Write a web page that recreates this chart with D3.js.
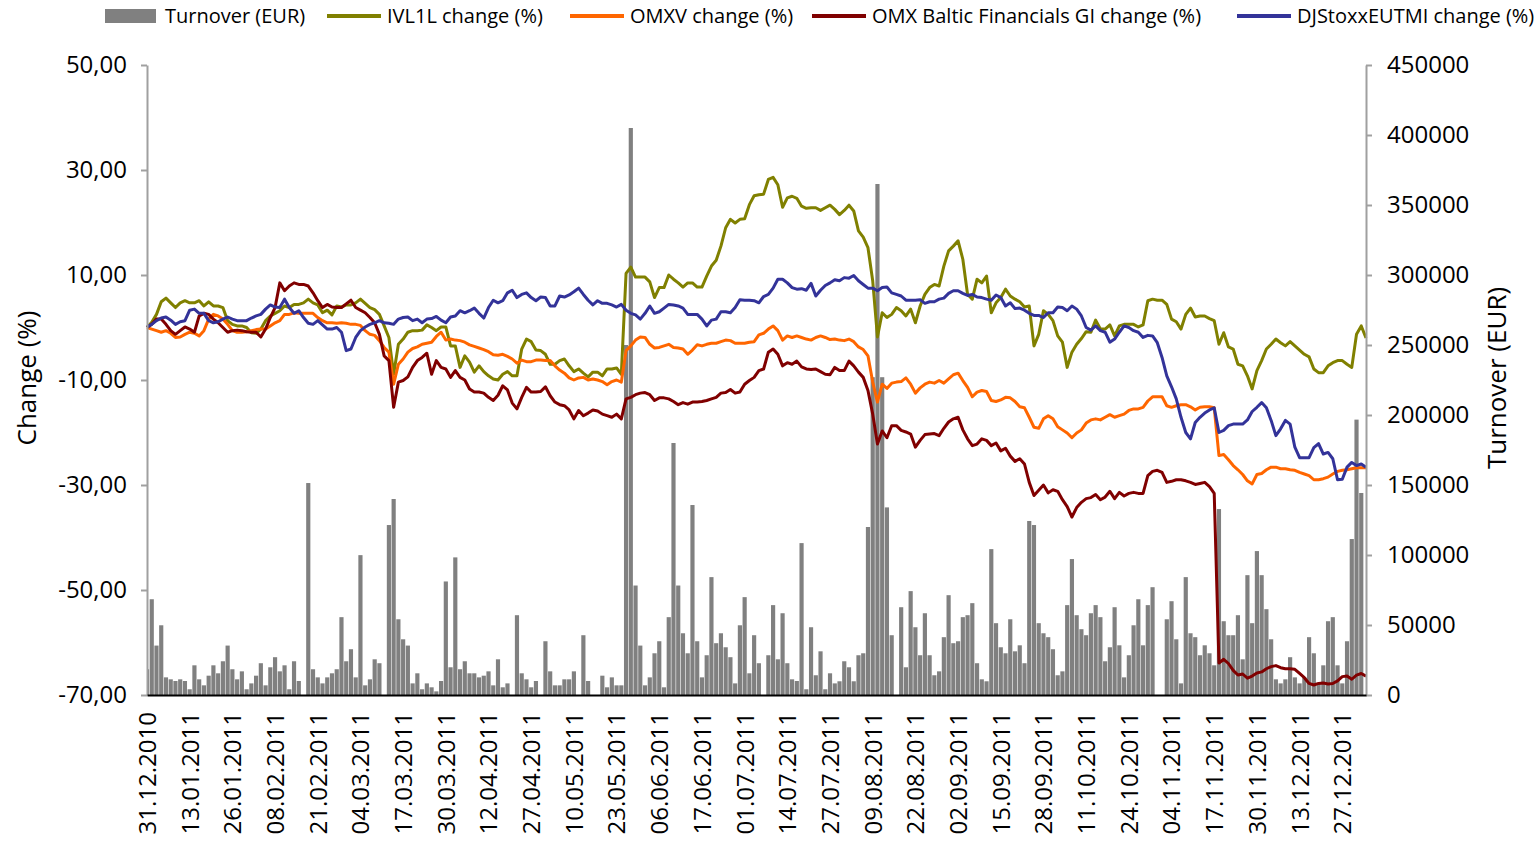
<!DOCTYPE html>
<html>
<head>
<meta charset="utf-8">
<script src="https://d3js.org/d3.v7.min.js"></script>
<style>
  body { margin: 0; background: #fff; }
  svg { display: block; font-family: "Open Sans", sans-serif; }
</style>
</head>
<body>
<svg id="chart" width="1539" height="843"></svg>
<script>
// daily values, one per trading day (31.12.2010 .. end of 2011)
const ivl1l = [0,1.0,2.5,4.9,5.6,4.7,3.8,4.7,5.1,4.7, 4.7,5.1,4.1,4.9,4.1,4.1,3.8,1.3,0.6,0.3,
  0.3,0,-1.0,-1.1,-0.3,1.3,2.2,2.7,3.2,4.1, 3.8,4.4,4.4,4.7,5.4,4.7,4.3,2.8,3.3,2.4,
  4.1,3.9,4.3,4.3,4.7,5.4,4.6,3.8,3.4,2.5, 0.3,-1.9,-8.9,-3.2,-2.2,-0.9,-0.6,-0.6,-0.5,0.5,
  0,-0.6,0.1,0.1,-3.5,-3.5,-7.6,-5.4,-6.6,-8.5, -7.3,-8.4,-9.2,-9.8,-10.0,-8.9,-8.4,-9.2,-9.2,-4.1,
  -2.2,-2.7,-4.3,-4.4,-5.1,-7.0,-7.0,-6.3,-6.0,-7.3, -8.4,-7.9,-8.7,-9.4,-8.5,-8.5,-9.2,-7.9,-7.9,-7.7,
  -8.9,10.3,11.5,9.6,9.6,9.6,8.7,5.7,7.6,7.6, 10.0,9.2,8.5,7.7,8.5,8.5,7.7,7.7,9.8,11.7,
  12.8,15.5,19.0,20.6,19.9,20.6,20.7,23.4,25.1,25.3, 25.4,28.2,28.6,27.2,22.9,24.7,25.0,24.6,23.1,22.7,
  22.8,22.8,22.3,22.8,23.3,22.5,21.5,22.3,23.3,22.2, 18.4,17.2,15.2,8.9,-1.8,2.8,1.9,2.5,3.8,3.2,
  2.2,3.5,0.9,4.1,6.3,7.6,8.2,7.9,11.7,14.6, 15.5,16.5,13.0,6.3,5.4,9.2,8.5,9.8,2.8,4.7,
  5.7,7.3,6.0,5.4,4.9,3.9,4.1,-3.5,-1.3,3.2, 2.5,1.3,-1.6,-2.8,-7.6,-4.7,-3.2,-2.1,-0.8,-0.9,
  1.4,-0.3,-0.3,0.5,-1.6,0.3,0.6,0.6,0.6,0.1, 0.5,5.1,5.4,5.2,5.2,4.4,1.6,1.1,-0.3,2.5,
  3.7,2.0,2.2,2.2,1.7,1.3,-3.2,-1.0,-3.7,-4.1, -7.0,-7.3,-9.2,-11.7,-8.2,-6.3,-4.1,-3.2,-2.2,-2.9,
  -3.5,-2.7,-3.5,-4.3,-5.1,-5.6,-7.9,-8.6,-8.6,-7.3, -6.7,-6.3,-6.3,-7.0,-7.6,-1.3,0.3,-2.0];

const omxv = [0,-0.3,-0.6,-0.9,-0.6,-1.1,-1.9,-1.8,-1.3,-0.9, -1.1,-1.6,-0.6,1.6,2.5,2.2,1.6,0.6,-0.6,-0.9,
  -0.9,-0.8,-0.6,-0.4,-0.3,-0.3,0.3,0.9,1.3,2.5, 2.5,2.8,2.7,2.7,2.7,2.7,1.9,1.3,0.9,0.9,
  0.8,0.9,0.8,0.6,0.6,0.4,-0.6,-1.3,-1.5,-2.5, -3.8,-4.7,-10.8,-7.0,-6.0,-4.7,-4.0,-3.7,-3.2,-3.0,
  -2.8,-1.7,-0.9,-2.4,-2.2,-2.4,-2.5,-2.8,-3.3,-3.6, -3.9,-4.2,-4.6,-5.2,-5.3,-5.1,-5.5,-6.0,-6.8,-6.2,
  -6.5,-6.5,-6.2,-6.2,-6.3,-6.3,-7.3,-8.1,-8.7,-9.6, -10.0,-9.6,-9.5,-10.0,-9.8,-10.0,-10.3,-10.9,-10.3,-10.0,
  -10.4,-4.4,-3.5,-2.4,-1.8,-1.9,-3.2,-3.9,-3.8,-3.5, -3.2,-3.8,-3.9,-4.1,-5.1,-4.3,-3.3,-3.5,-3.2,-3.0,
  -3.0,-2.7,-2.4,-2.5,-3.0,-3.0,-3.0,-2.8,-2.7,-1.4, -1.1,-0.3,0.3,-0.6,-2.4,-1.6,-1.9,-1.6,-1.9,-2.2,
  -2.4,-1.9,-1.6,-1.9,-2.3,-2.2,-2.4,-2.5,-2.2,-2.7, -3.7,-4.2,-5.4,-10.4,-14.2,-10.8,-11.6,-10.6,-10.4,-10.3,
  -9.6,-10.8,-12.5,-11.5,-10.8,-10.4,-10.6,-10.1,-10.6,-9.8, -9.0,-8.7,-10.1,-11.4,-13.2,-12.3,-12.0,-12.2,-13.9,-14.1,
  -13.8,-13.3,-13.4,-14.1,-15.1,-15.3,-17.1,-19.0,-19.2,-17.4, -16.8,-17.4,-18.9,-19.5,-20.1,-21.0,-20.1,-19.5,-18.2,-17.6,
  -17.4,-17.6,-17.1,-16.6,-17.1,-16.8,-16.5,-15.8,-15.5,-15.5, -15.2,-14.0,-13.2,-13.2,-13.2,-14.9,-15.2,-14.9,-14.7,-14.7,
  -15.1,-15.7,-15.2,-15.1,-15.1,-15.3,-24.4,-24.2,-25.2,-26.3, -27.1,-28.0,-29.2,-29.8,-28.0,-27.8,-27.1,-26.6,-26.6,-26.9,
  -26.9,-27.1,-27.2,-27.6,-27.9,-28.2,-29.0,-29.0,-28.8,-28.5, -27.9,-27.4,-27.2,-27.1,-26.9,-26.7,-26.7,-26.7];

const balticFin = [0,0.6,1.6,1.6,0.6,-0.6,-1.3,-0.6,0.1,-0.3, -0.9,2.2,2.7,2.5,1.6,0.9,0,-0.9,-0.6,-0.5,
  -0.6,-0.8,-0.9,-0.9,-1.8,-0.3,1.9,3.8,8.5,7.0, 7.9,8.5,8.2,8.2,7.9,6.6,5.1,3.8,4.4,3.9,
  3.8,3.8,4.5,5.2,3.8,3.3,2.8,1.9,0.9,-1.3, -5.4,-6.3,-15.2,-10.4,-10.1,-9.4,-7.6,-6.3,-5.7,-4.9,
  -8.9,-6.3,-7.6,-7.9,-9.5,-8.2,-9.5,-10.0,-11.7,-12.3, -12.3,-12.5,-13.3,-13.9,-12.9,-11.1,-11.9,-14.4,-15.5,-13.3,
  -11.4,-12.3,-12.3,-12.2,-11.3,-13.0,-14.2,-14.7,-14.9,-15.7, -17.4,-15.8,-16.8,-16.3,-15.7,-15.9,-16.5,-16.8,-17.1,-16.5,
  -17.4,-13.6,-13.3,-12.8,-12.5,-12.4,-12.8,-13.9,-13.4,-13.4, -13.6,-14.1,-14.7,-14.3,-14.6,-14.2,-14.2,-14.1,-13.9,-13.6,
  -13.3,-12.5,-12.4,-11.8,-12.5,-12.3,-10.8,-10.1,-9.5,-8.2, -7.9,-4.7,-4.1,-5.1,-7.3,-6.7,-7.0,-6.4,-7.5,-7.9,
  -8.0,-7.9,-8.4,-8.9,-9.0,-7.6,-8.2,-8.2,-6.4,-7.3, -8.5,-9.5,-12.0,-16.5,-22.2,-19.7,-21.0,-18.7,-18.7,-19.6,
  -19.9,-20.3,-22.8,-21.5,-20.4,-20.3,-20.2,-20.6,-19.2,-18.0, -17.4,-17.1,-19.5,-21.2,-22.5,-22.2,-21.2,-21.5,-22.5,-22.0,
  -23.5,-23.0,-24.5,-25.5,-25.0,-26.0,-29.5,-32.0,-31.0,-30.0, -31.5,-30.9,-31.2,-32.8,-34.1,-36.1,-34.3,-33.3,-32.6,-32.4,
  -31.8,-32.8,-32.3,-31.2,-32.6,-31.4,-32.1,-31.6,-31.4,-31.6, -31.6,-28.2,-27.4,-27.2,-27.6,-29.5,-29.3,-29.0,-29.0,-29.2,
  -29.5,-29.9,-29.7,-29.5,-30.3,-31.6,-63.9,-63.2,-64.0,-65.3, -66.2,-66.0,-66.8,-66.4,-65.8,-65.6,-65.0,-64.6,-64.4,-64.8,
  -65.0,-65.0,-65.1,-65.9,-66.7,-67.8,-68.1,-67.8,-67.7,-67.9, -67.8,-67.3,-66.5,-66.4,-67.0,-66.2,-65.9,-66.4];

const djstoxx = [0.1,0.6,1.3,1.8,2.0,1.4,0.6,1.1,1.3,3.3, 3.5,2.7,2.7,1.3,0.9,1.1,1.6,2.0,1.6,1.3,
  1.3,1.3,1.8,2.2,2.5,3.5,4.3,3.9,3.8,5.4, 3.8,2.7,3.2,1.9,0.8,0.6,1.3,0.5,-0.3,-0.3,
  0,-0.9,-4.4,-4.1,-1.9,-0.6,0.1,0.6,0.9,1.3, 0.9,0.8,0.6,1.6,1.9,2.0,1.3,1.6,0.9,1.6,
  1.7,2.1,1.4,0.9,2.0,2.2,3.2,2.8,3.2,3.7, 2.7,1.8,3.8,5.2,4.7,5.1,6.6,7.1,5.7,6.3,
  6.6,5.7,5.1,5.8,5.7,4.1,4.1,6.0,5.8,6.2, 6.8,7.5,6.3,5.2,4.3,5.1,4.6,4.6,4.3,3.9,
  4.4,3.3,2.7,2.4,1.6,2.7,4.1,2.7,3.0,3.7, 4.4,4.3,4.1,3.7,2.5,2.5,2.5,1.6,0.3,1.4,
  1.6,3.0,3.0,2.8,3.8,5.3,5.2,5.2,5.1,4.7, 5.9,6.3,7.5,9.2,9.2,8.5,7.6,7.3,7.4,7.1,
  8.4,6.0,7.1,8.0,8.5,9.1,8.9,9.5,9.4,9.9, 8.9,8.2,7.5,7.5,7.0,7.6,7.7,6.6,6.3,6.0,
  5.2,5.2,5.2,5.3,4.6,4.9,4.9,5.4,5.6,6.5, 7.0,7.0,6.5,6.1,6.3,5.8,5.7,5.4,5.2,6.2,
  5.7,4.1,4.7,3.6,3.7,3.3,2.7,2.3,2.3,1.9, 2.8,2.8,3.9,3.8,3.2,4.1,3.5,2.2,0,-0.5,
  0.3,-0.6,-0.9,-2.8,-2.2,-0.9,0.3,0,-0.6,-0.9, -1.9,-1.5,-1.6,-2.9,-5.7,-9.2,-11.3,-13.6,-17.1,-20.0,
  -21.2,-18.1,-17.1,-16.3,-15.7,-15.3,-20.0,-19.6,-18.7,-18.4, -18.4,-18.4,-17.6,-16.0,-15.2,-14.3,-15.3,-17.7,-20.6,-19.3,
  -17.7,-18.4,-22.8,-24.8,-24.8,-24.8,-22.9,-22.1,-24.1,-23.8, -25.0,-29.0,-28.9,-26.6,-25.7,-26.3,-26.0,-26.6];

const turnover = [18400,68400,35300,49800,12600,11200,10000,11200,10000,4100,
  21200,11200,6900,13800,21200,15500,24100,35300,18400,11200,
  16900,4100,8300,13800,22700,6900,19800,27000,16900,21200,
  4100,24100,10000,0,151400,18400,12600,8300,12600,15500,
  18400,55600,24100,32700,12600,99900,6900,11200,25500,22700,
  0,121400,140000,54100,39800,35300,8300,15500,4100,8300,
  5500,2600,10000,81100,19800,98300,18400,24100,15500,15500,
  12600,13800,16900,6900,25500,5500,8300,0,57000,15500,
  11200,5500,10000,0,38400,16900,6900,6900,11200,11200,
  16900,0,42700,10000,0,0,13800,5500,12600,6900,
  6900,250000,405000,78200,35300,6900,12600,29800,38400,5500,
  55600,180000,78200,44100,29800,135700,38400,12600,28400,84200,
  37000,44100,34100,27000,8300,49800,69900,15500,42700,22700,
  0,28400,64200,25500,58400,22700,11200,10000,108500,4100,
  48400,14100,31200,4100,15500,8300,9800,24100,19800,9800,
  28400,29800,120000,227000,365000,227000,134000,42700,0,62700,
  19800,74200,48400,28400,58400,28400,14100,16900,41300,71300,
  37000,38400,55600,57000,65600,22700,11200,9800,104200,51300,
  34100,29800,54100,31200,35500,22700,124300,121400,51300,44100,
  41300,32700,14100,16900,64200,97100,57000,47000,42700,58400,
  64200,55600,24100,34100,62700,35500,12600,28400,49800,68400,
  35500,64200,77000,0,0,54100,67000,39800,8300,84200,
  44100,41300,28400,35500,29800,21200,132800,52700,42700,42700,
  57000,25500,85600,51300,102800,85600,61300,39800,11200,8300,
  11200,27000,12600,8300,12600,41300,29800,8300,21200,52700,
  55600,21200,8300,38400,111400,196700,144300,null];

// every 9th trading day carries a label
const dateLabels = ["31.12.2010","13.01.2011","26.01.2011","08.02.2011","21.02.2011","04.03.2011",
  "17.03.2011","30.03.2011","12.04.2011","27.04.2011","10.05.2011","23.05.2011","06.06.2011",
  "17.06.2011","01.07.2011","14.07.2011","27.07.2011","09.08.2011","22.08.2011","02.09.2011",
  "15.09.2011","28.09.2011","11.10.2011","24.10.2011","04.11.2011","17.11.2011","30.11.2011",
  "13.12.2011","27.12.2011"];

const seriesNames = ["IVL1L change (%)", "OMXV change (%)", "OMX Baltic Financials GI change (%)", "DJStoxxEUTMI change (%)"];
const seriesColors = ["#808000", "#ff6600", "#800000", "#333399"];
const changeTicks = [50, 30, 10, -10, -30, -50, -70];
const turnoverTicks = [0, 50000, 100000, 150000, 200000, 250000, 300000, 350000, 400000, 450000];

const svg = d3.select("#chart");
const plot = { left: 147, right: 1366, top: 65, bottom: 695 };

const x = d3.scaleLinear().domain([0, ivl1l.length - 1]).range([plot.left, plot.right]);
const yL = d3.scaleLinear().domain([-70, 50]).range([plot.bottom, plot.top]);
const yR = d3.scaleLinear().domain([0, 450000]).range([plot.bottom, plot.top]);

svg.append("clipPath").attr("id", "plotclip")
  .append("rect")
  .attr("x", plot.left).attr("y", plot.top)
  .attr("width", plot.right - plot.left).attr("height", plot.bottom - plot.top);

// turnover bars
const step = x(1) - x(0);
const barW = step * 0.88;
svg.append("g")
  .attr("clip-path", "url(#plotclip)")
  .attr("fill", "#808080")
  .selectAll("rect")
  .data(turnover.map((v, i) => ({ i, v })).filter(d => d.v))
  .join("rect")
  .attr("x", d => x(d.i) - barW / 2)
  .attr("y", d => yR(d.v))
  .attr("width", barW)
  .attr("height", d => yR(0) - yR(d.v));

// change lines
const line = d3.line().x((d, i) => x(i)).y(d => yL(d));
[ivl1l, omxv, balticFin, djstoxx].forEach((s, k) => {
  svg.append("path")
    .datum(s)
    .attr("fill", "none")
    .attr("stroke", seriesColors[k])
    .attr("stroke-width", 3)
    .attr("stroke-linejoin", "round")
    .attr("d", line);
});

// axes
const fmt = d => d.toFixed(2).replace(".", ",");
const leftAxis = svg.append("g")
  .attr("transform", `translate(${plot.left},0)`)
  .call(d3.axisLeft(yL).tickValues(changeTicks).tickFormat(fmt).tickSize(6).tickSizeOuter(0).tickPadding(14));

const rightAxis = svg.append("g")
  .attr("transform", `translate(${plot.right},0)`)
  .call(d3.axisRight(yR).tickValues(turnoverTicks).tickFormat(d3.format("d")).tickSize(6).tickSizeOuter(0).tickPadding(15));

[leftAxis, rightAxis].forEach(g => {
  g.select(".domain").attr("stroke", "#a0a0a0").attr("stroke-width", 2);
  g.selectAll(".tick line").attr("stroke", "#a0a0a0").attr("stroke-width", 2);
  g.selectAll("text").attr("font-size", 24).attr("fill", "#000").style("font-family", "Open Sans");
});

const bottomAxis = svg.append("g")
  .attr("transform", `translate(0,${plot.bottom})`)
  .call(d3.axisBottom(x)
    .tickValues(dateLabels.map((d, k) => k * 9))
    .tickFormat((d, k) => dateLabels[k])
    .tickSize(0).tickSizeOuter(0));
bottomAxis.select(".domain").attr("stroke", "#000").attr("stroke-width", 2);
bottomAxis.selectAll("text")
  .attr("transform", "rotate(-90)")
  .attr("text-anchor", "end")
  .attr("x", -17)
  .attr("y", 0)
  .attr("dy", "0.35em")
  .attr("font-size", 24)
  .attr("fill", "#000")
  .style("font-family", "Open Sans");

// axis titles
svg.append("text")
  .attr("transform", "translate(27,378) rotate(-90)")
  .attr("text-anchor", "middle")
  .attr("dy", "0.35em")
  .attr("font-size", 26)
  .text("Change (%)");

svg.append("text")
  .attr("transform", "translate(1497,378) rotate(-90)")
  .attr("text-anchor", "middle")
  .attr("dy", "0.35em")
  .attr("font-size", 26)
  .text("Turnover (EUR)");

// legend
const legendX = [105, 327, 570, 812, 1237];
const legendY = 16;
const lg = svg.append("g").attr("font-size", 20);
lg.append("rect")
  .attr("x", legendX[0]).attr("y", legendY - 7)
  .attr("width", 51).attr("height", 14)
  .attr("fill", "#808080");
lg.append("text")
  .attr("x", legendX[0] + 60).attr("y", legendY)
  .attr("dy", "0.35em")
  .text("Turnover (EUR)");

seriesNames.forEach((name, k) => {
  const x0 = legendX[k + 1];
  lg.append("line")
    .attr("x1", x0).attr("x2", x0 + 54)
    .attr("y1", legendY).attr("y2", legendY)
    .attr("stroke", seriesColors[k])
    .attr("stroke-width", 4);
  lg.append("text")
    .attr("x", x0 + 60).attr("y", legendY)
    .attr("dy", "0.35em")
    .text(name);
});
</script>
</body>
</html>
